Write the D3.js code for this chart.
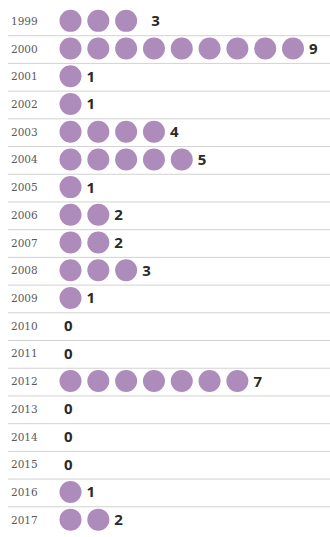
<!DOCTYPE html>
<html lang="en-us">
    <head>
        <meta charset="utf-8">
        <title>Dots per year</title>
        <script src="https://d3js.org/d3.v7.min.js"></script>
        <style>
            body { margin: 0; background: #fff; }
        </style>
    </head>
    <body>
        <div id="d3render"></div>
    </body>
    <script>
        const years = ['1999','2000','2001','2002','2003','2004','2005','2006','2007','2008',
                       '2009','2010','2011','2012','2013','2014','2015','2016','2017'];
        const counts = [3, 9, 1, 1, 4, 5, 1, 2, 2, 3, 1, 0, 0, 7, 0, 0, 0, 1, 2];

        const svgWidth = 330;
        const svgHeight = 537;

        const svg = d3.select('#d3render')
            .append('svg')
            .attr('width', svgWidth)
            .attr('height', svgHeight)
            .style('background-color', 'white');

        // one band per year, rows ~27.7px apart
        const yScale = d3.scaleBand()
            .domain(years)
            .range([7, 533.5])
            .padding(0);

        // dot index -> x centre
        const xScale = d3.scaleLinear()
            .domain([0, 8])
            .range([70.5, 293]);

        const r = 11;
        const color = '#ad8cbb';

        const rows = svg.selectAll('g.row')
            .data(years.map((y, i) => ({ year: y, n: counts[i] })))
            .enter()
            .append('g')
            .attr('class', 'row')
            .attr('transform', d => `translate(0, ${yScale(d.year) + yScale.bandwidth() / 2})`);

        // separator lines between rows
        svg.selectAll('line.sep')
            .data(years.slice(1))
            .enter()
            .append('line')
            .attr('class', 'sep')
            .attr('x1', 8)
            .attr('x2', svgWidth)
            .attr('y1', d => yScale(d) + 1)
            .attr('y2', d => yScale(d) + 1)
            .attr('stroke', '#d2d2d2')
            .attr('stroke-width', 1);

        rows.append('text')
            .attr('x', 11)
            .attr('y', 4)
            .attr('font-family', 'DejaVu Serif, serif')
            .attr('font-size', 10.5)
            .attr('fill', '#5a5a5a')
            .text(d => d.year);

        rows.selectAll('circle')
            .data(d => d3.range(d.n))
            .enter()
            .append('circle')
            .attr('cx', i => xScale(i))
            .attr('cy', 0)
            .attr('r', r)
            .attr('fill', color);

        rows.append('text')
            .attr('x', d => d.n === 0 ? 64 : xScale(d.n - 1) + (d.year === '1999' ? 25 : 16))
            .attr('y', 5.5)
            .attr('font-family', 'Open Sans, sans-serif')
            .attr('font-weight', 'bold')
            .attr('font-size', 15)
            .attr('fill', '#2a2a2a')
            .text(d => d.n);
    </script>
</html>
